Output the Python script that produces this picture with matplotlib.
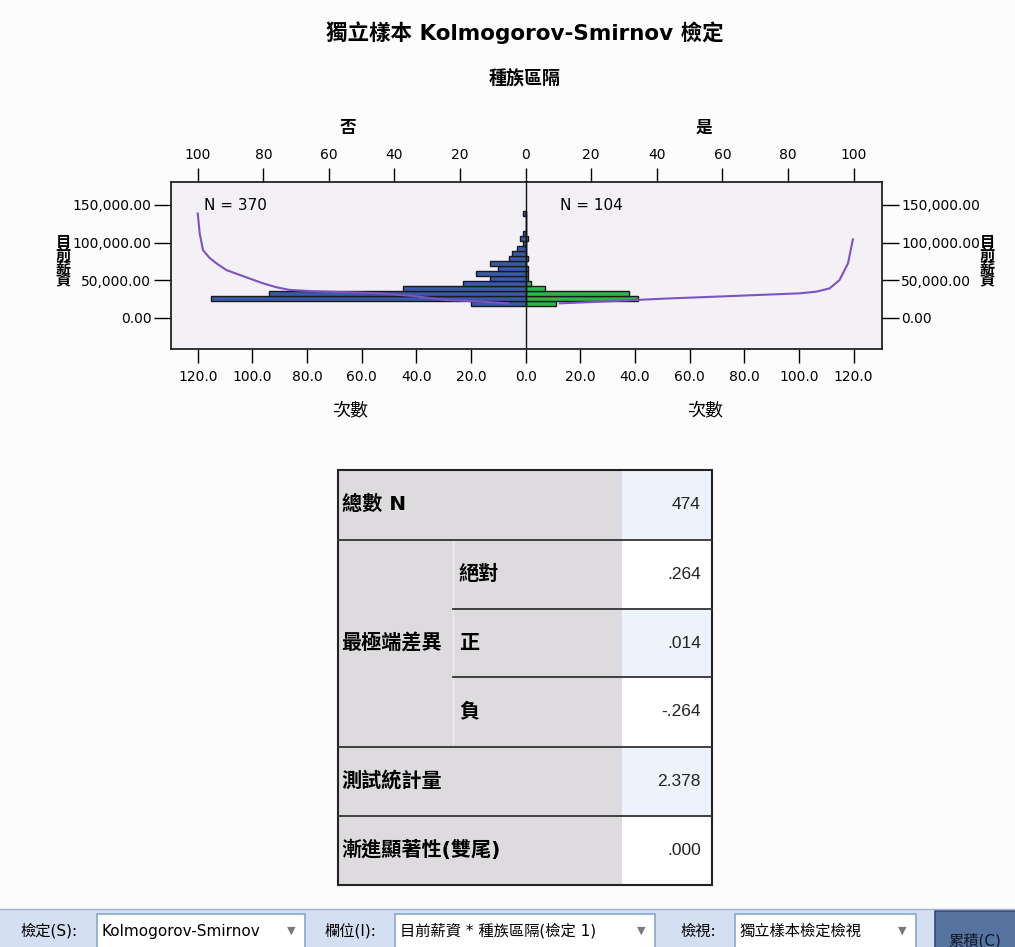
import matplotlib
matplotlib.use("Agg")
import matplotlib.pyplot as plt
import numpy as np
from matplotlib.patches import Rectangle

plt.rcParams['font.family'] = ['DejaVu Sans', 'Noto Sans CJK TC']

# ---------------- data ----------------
title = '獨立樣本 Kolmogorov-Smirnov 檢定'
group_title = '種族區隔'
groups = ['否', '是']
group_n = [370, 104]

# salary bins (bottom -> top)
bin_start = 15160
bin_width = 6670
counts_no = [20, 115, 94, 45, 23, 13, 18, 10, 13, 6, 5, 3, 1, 2, 1, 0, 0, 0, 1]
counts_yes = [11, 41, 38, 7, 2, 1, 1, 1, 0, 1, 0, 0, 0, 1, 0, 0, 0, 0, 0]

# cumulative percent curves (percent, salary)
cum_no_pct = [100, 99.4, 98.4, 96.5, 94.3, 91.3, 88.2, 84.1, 80.1, 76, 72.0, 65, 59.8, 52, 44.5, 34.4, 24, 13.0, 5.4]
cum_no_sal = [138800, 112000, 90000, 80000, 72300, 63500, 58500, 52000, 45800, 40500, 37000, 35300, 34600,
              33600, 32500, 28900, 23500, 21300, 19100]
cum_yes_pct = [10.4, 22.6, 42.9, 63.2, 83.5, 88.6, 92.7, 95.7, 98.3, 99.8]
cum_yes_sal = [19100, 21300, 25500, 28900, 32400, 34600, 39000, 50000, 72300, 104300]

count_ticks = [-120, -100, -80, -60, -40, -20, 0, 20, 40, 60, 80, 100, 120]
pct_ticks = [-100, -80, -60, -40, -20, 0, 20, 40, 60, 80, 100]
salary_ticks = [0, 50000, 100000, 150000]

# table
table_rows = ['總數 N', '最極端差異', '測試統計量', '漸進顯著性(雙尾)']
extreme_sub = ['絕對', '正', '負']
table_values = ['474', '.264', '.014', '-.264', '2.378', '.000']

# toolbar
tb_labels = ['檢定(S):', '欄位(I):', '檢視:']
tb_values = ['Kolmogorov-Smirnov', '目前薪資 * 種族區隔(檢定 1)', '獨立樣本檢定檢視']
tb_button = '累積(C)'

# ---------------- figure ----------------
W, H = 1015, 947
fig = plt.figure(figsize=(W / 100, H / 100), dpi=100)
fig.patch.set_facecolor('#FBFCFB')

# overlay in pixel coordinates for table / toolbar
ov = fig.add_axes([0, 0, 1, 1], zorder=0)
ov.set_xlim(0, W)
ov.set_ylim(H, 0)
ov.axis('off')
ov.patch.set_visible(False)

# main chart
L, R, T, B = 170.7, 881.7, 181.7, 349
ax = fig.add_axes([L / W, 1 - B / H, (R - L) / W, (B - T) / H], zorder=2)
ax.set_facecolor('#F3F1F5')

centers = bin_start + bin_width * (np.arange(len(counts_no)) + 0.5)
ax.barh(centers, -np.array(counts_no), height=bin_width, color='#3A5AA9', edgecolor='#1a1a1a', linewidth=1.0)
ax.barh(centers, counts_yes, height=bin_width, color='#2FB548', edgecolor='#1a1a1a', linewidth=1.0)
ax.axvline(0, color='#111111', lw=1.0)

ax.set_xlim(-129.9, 130.3)
ax.set_ylim(-41650, 181000)
ax.set_xticks(count_ticks)
ax.set_xticklabels([f'{abs(v):.1f}' for v in count_ticks])
ax.set_yticks(salary_ticks)
ax.set_yticklabels([f'{v:,.2f}' for v in salary_ticks])
ax.tick_params(axis='x', direction='out', length=10, width=1, pad=5, labelsize=10)
ax.tick_params(axis='y', direction='out', length=12, width=1, pad=2, labelsize=10,
               left=True, right=True, labelleft=True, labelright=True)
for s in ax.spines.values():
    s.set_color('#222222')
    s.set_linewidth(1.3)

ax2 = ax.twiny()
ax2.set_xlim(-129.9 / 1.2, 130.3 / 1.2)
ax2.set_xticks(pct_ticks)
ax2.set_xticklabels([f'{abs(v)}' for v in pct_ticks])
ax2.tick_params(axis='x', direction='out', length=10, width=1, pad=4, labelsize=10)
ax2.plot(-np.array(cum_no_pct), cum_no_sal, color='#7E52C4', lw=1.5)
ax2.plot(cum_yes_pct, cum_yes_sal, color='#7E52C4', lw=1.5)
for s in ax2.spines.values():
    s.set_visible(False)

ax.text(-117.7, 148700, f'N = {group_n[0]}', fontsize=11, va='center', ha='left')
ax.text(12.6, 148700, f'N = {group_n[1]}', fontsize=11, va='center', ha='left')

# titles and axis labels
fig.text(525 / W, 1 - 33 / H, title, ha='center', va='center', fontsize=15.5, fontweight='bold')
fig.text(525 / W, 1 - 80 / H, group_title, ha='center', va='center', fontsize=13, fontweight='bold')
fig.text(348 / W, 1 - 128 / H, groups[0], ha='center', va='center', fontsize=12, fontweight='bold')
fig.text(704 / W, 1 - 128 / H, groups[1], ha='center', va='center', fontsize=12, fontweight='bold')
fig.text(350 / W, 1 - 410 / H, '次數', ha='center', va='center', fontsize=13)
fig.text(705 / W, 1 - 410 / H, '次數', ha='center', va='center', fontsize=13)
for xp in (63, 987):
    fig.text(xp / W, 1 - 262 / H, '目\n前\n薪\n資', ha='center', va='center', fontsize=11,
             fontweight='bold', linespacing=0.82)

# ---------------- table ----------------
tx0, tx1, tx2, tx3 = 338, 453, 622, 712
ty = [469.5, 539.5, 609, 677, 746.5, 815.5, 885]
gray = '#DEDBDF'
blue_bg = '#EDF3FC'
val_bg = [blue_bg, 'white', blue_bg, 'white', blue_bg, 'white']

ov.add_patch(Rectangle((tx0, ty[0]), tx2 - tx0, ty[-1] - ty[0], facecolor=gray, edgecolor='none'))
for i in range(6):
    ov.add_patch(Rectangle((tx2, ty[i]), tx3 - tx2, ty[i + 1] - ty[i], facecolor=val_bg[i], edgecolor='none'))
    ov.text(701, (ty[i] + ty[i + 1]) / 2, table_values[i], ha='right', va='center',
            fontsize=12.5, family=['Liberation Sans', 'DejaVu Sans'], color='#222222')
ov.plot([tx1, tx1], [ty[1], ty[4]], color='#ECEAEE', lw=1)
for y in (ty[1], ty[4], ty[5]):
    ov.plot([tx0, tx3], [y, y], color='#333333', lw=1.3)
for y in (ty[2], ty[3]):
    ov.plot([tx1, tx3], [y, y], color='#333333', lw=1.3)
ov.add_patch(Rectangle((tx0, ty[0]), tx3 - tx0, ty[-1] - ty[0], facecolor='none', edgecolor='#222222', lw=1.5))

fs_tab = 14.5
ov.text(342, (ty[0] + ty[1]) / 2, table_rows[0], ha='left', va='center', fontsize=fs_tab, fontweight='bold')
ov.text(341, (ty[1] + ty[4]) / 2, table_rows[1], ha='left', va='center', fontsize=fs_tab, fontweight='bold')
for k, lab in enumerate(extreme_sub):
    ov.text(459, (ty[1 + k] + ty[2 + k]) / 2, lab, ha='left', va='center', fontsize=fs_tab, fontweight='bold')
ov.text(341, (ty[4] + ty[5]) / 2, table_rows[2], ha='left', va='center', fontsize=fs_tab, fontweight='bold')
ov.text(341, (ty[5] + ty[6]) / 2, table_rows[3], ha='left', va='center', fontsize=fs_tab, fontweight='bold')

# ---------------- toolbar ----------------
ov.add_patch(Rectangle((0, 909), W, H - 909, facecolor='#D4E0F1', edgecolor='none'))
ov.plot([0, W], [909, 909], color='#9FB6D8', lw=1)
label_x = [20, 325, 680]
box_x = [(97, 305), (395, 655), (735, 916)]
for lab, val, lx, (b0, b1) in zip(tb_labels, tb_values, label_x, box_x):
    ov.text(lx, 931, lab, ha='left', va='center', fontsize=11)
    ov.add_patch(Rectangle((b0, 914), b1 - b0, 40, facecolor='white', edgecolor='#86A6D6', lw=1.2))
    ov.text(b0 + 5, 931, val, ha='left', va='center', fontsize=11)
    ov.text(b1 - 14, 931, '▼', ha='center', va='center', fontsize=8, color='#7A7A7A')
ov.add_patch(Rectangle((935, 911), 85, 40, facecolor='#56739F', edgecolor='#33496E', lw=1.2))
ov.text(948, 941, tb_button, ha='left', va='center', fontsize=11, color='#101828')

fig.savefig('out.png', dpi=100, facecolor=fig.get_facecolor())
